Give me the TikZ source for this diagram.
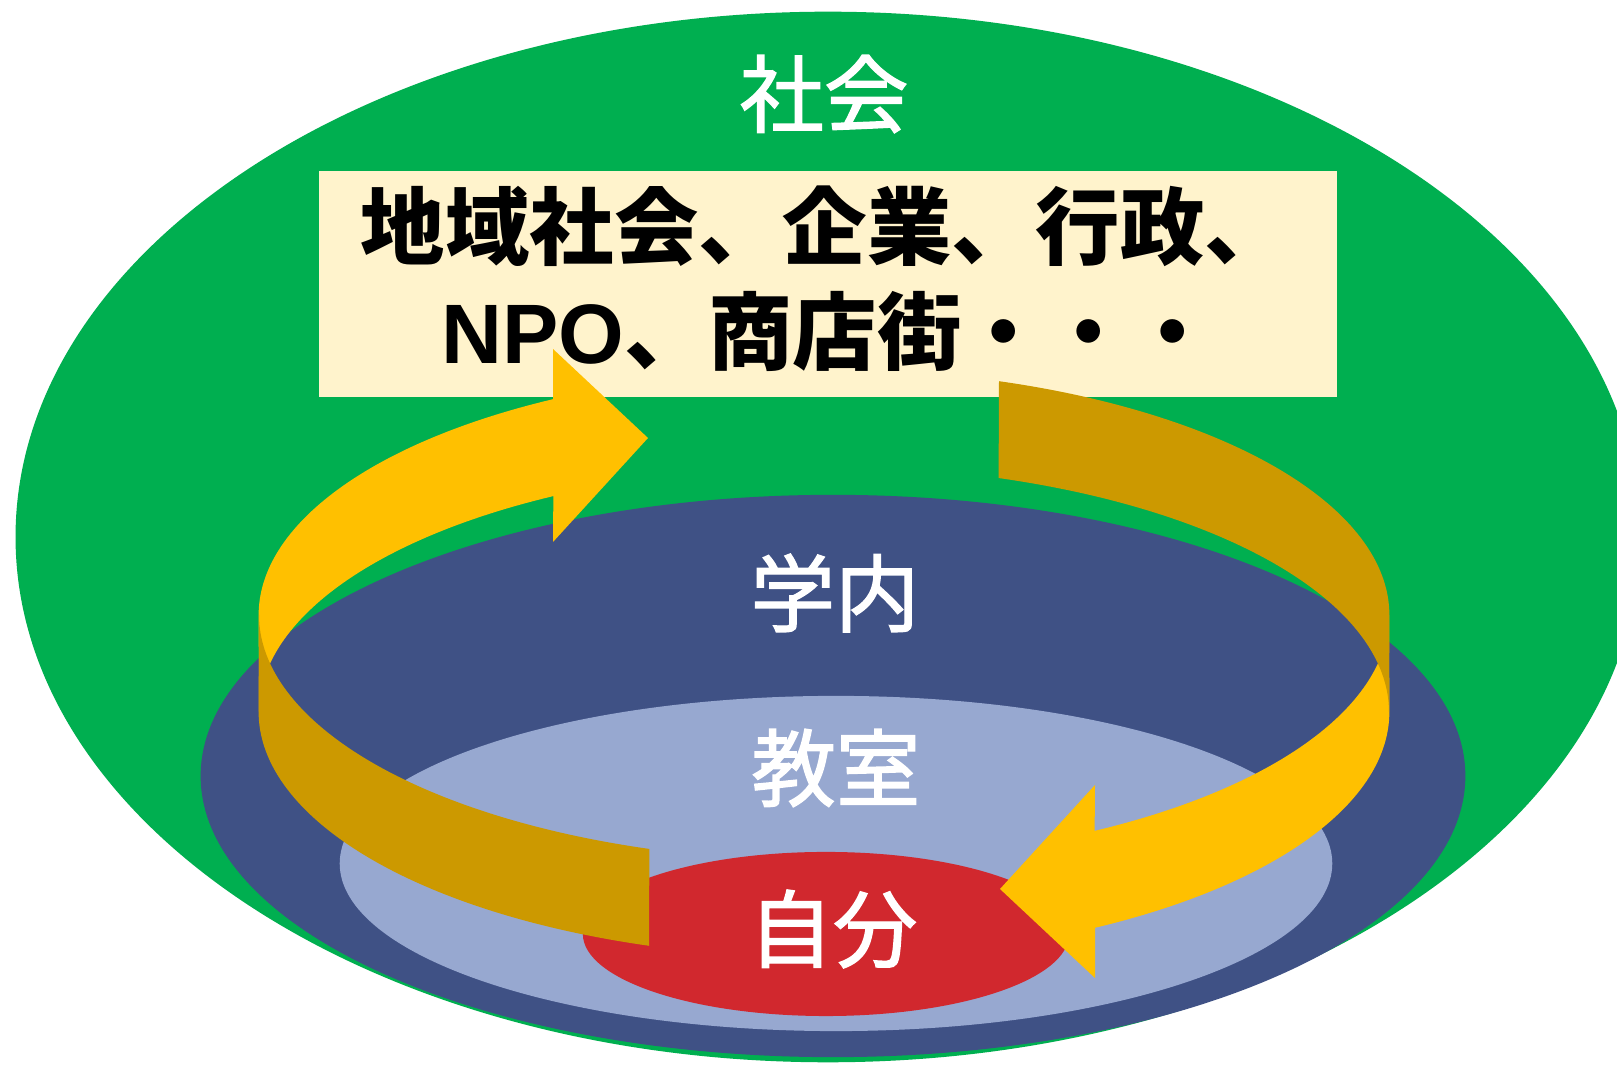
\documentclass[tikz,border=0pt]{standalone}
\usepackage{fontspec}
\newfontfamily\jp{Noto Sans CJK JP}
\newfontfamily\jpm{Noto Sans CJK JP}[FakeBold=1.6]
\newfontfamily\lat{Liberation Sans}
\definecolor{grn}{HTML}{00AF50}
\definecolor{dblue}{HTML}{3F5185}
\definecolor{lblue}{HTML}{97A8D0}
\definecolor{rred}{HTML}{D1282E}
\definecolor{yel}{HTML}{FFC000}
\definecolor{gld}{HTML}{CC9900}
\definecolor{cream}{HTML}{FFF3CC}
\tikzset{
  lbl/.style={font=\jpm\fontsize{24}{24}\selectfont, text=white, inner sep=0pt},
  boxtxt/.style={font=\jp\bfseries\fontsize{24}{24}\selectfont, text=black, inner sep=0pt},
  ell/.style={x radius=5.66cm, y radius=2.46cm}
}
\newcommand\myCycleArrow{%
  \fill[yel] (553,399.2) arc[start angle=118.7,end angle=180,ell]
    -- (259,712) arc[start angle=180,end angle=118.7,ell]
    -- (553,542) -- (648,438) -- (553,349) -- cycle;
  \fill[gld] (259,615) arc[start angle=180,end angle=251.9,ell]
    -- (649,945.8) arc[start angle=251.9,end angle=180,ell] -- cycle;
}
\begin{document}
\begin{tikzpicture}[x=0.01cm,y=-0.01cm]
\clip (0,0) rectangle (1617,1065);
\fill[white] (0,0) rectangle (1617,1065);
% society
\fill[grn] (828,537) ellipse [x radius=8.12cm, y radius=5.25cm];
\node[fill=cream, minimum width=10.18cm, minimum height=2.265cm, inner sep=0pt] (box) at (828,284) {};
% campus, classroom, self
\fill[dblue] (833,776) ellipse [x radius=6.32cm, y radius=2.81cm];
\fill[lblue] (836,863.5) ellipse [x radius=4.96cm, y radius=1.675cm];
\fill[rred] (826,934) ellipse [x radius=2.43cm, y radius=0.82cm];
% cycle arrows
\myCycleArrow
\begin{scope}[rotate around={180:(824,663.5)}]
\myCycleArrow
\end{scope}
% labels
\node[lbl] (shakai) at (824,94) {社会};
\node[boxtxt] (line1) at (825,226) {地域社会、企業、行政、};
\node[boxtxt] (line2) at (828,331) {{\lat\bfseries NPO}、商店街・・・};
\node[lbl] (gakunai) at (835,593) {学内};
\node[lbl] (kyoshitsu) at (836,768) {教室};
\node[lbl] (jibun) at (833,929) {自分};
\end{tikzpicture}
\end{document}
